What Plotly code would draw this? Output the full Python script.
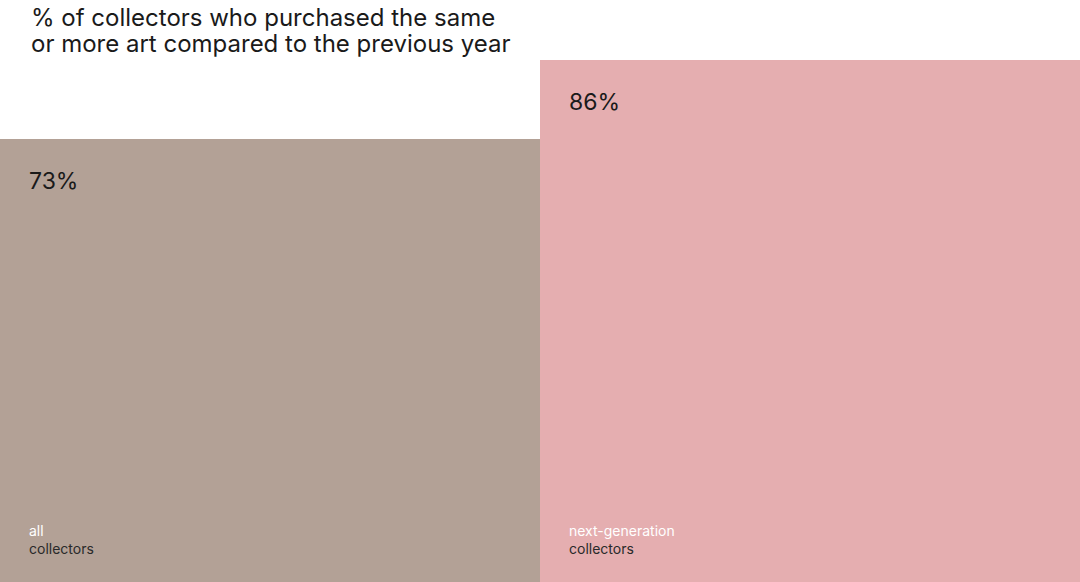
import plotly.graph_objects as go

categories = ["all collectors", "next-generation collectors"]
group_labels = ["all", "next-generation"]
values = [73, 86]
colors = ["#B3A196", "#E5AEB0"]
title_lines = ["% of collectors who purchased the same",
               "or more art compared to the previous year"]

H = 582
FONT = "Inter, Arial, sans-serif"
x_idx = list(range(len(categories)))

fig = go.Figure(
    go.Bar(
        x=x_idx,
        y=values,
        width=1,
        marker=dict(color=colors, line=dict(width=0)),
        hoverinfo="skip",
    )
)

annotations = []
for i, v in enumerate(values):
    annotations.append(dict(
        x=i - 0.5, y=v, xref="x", yref="y",
        text=f"{v}%", showarrow=False,
        xanchor="left", yanchor="top", xshift=27, yshift=-26,
        font=dict(family=FONT, size=23, color="#1a1a1a"),
        align="left",
    ))
    annotations.append(dict(
        x=i - 0.5, y=0, xref="x", yref="y",
        text=f"<span style='color:#ffffff'>{group_labels[i]}</span><br>collectors",
        showarrow=False,
        xanchor="left", yanchor="bottom", xshift=27, yshift=23,
        font=dict(family=FONT, size=14, color="#2a2a2a"),
        align="left",
    ))

for k, (line, ypx) in enumerate(zip(title_lines, [17, 44])):
    annotations.append(dict(
        x=29 / 1080, y=1 - ypx / H, xref="paper", yref="paper",
        text=line, showarrow=False,
        xanchor="left", yanchor="middle",
        font=dict(family=FONT, size=24, color="#1a1a1a"),
        align="left",
    ))

fig.update_layout(
    width=1080, height=H,
    margin=dict(l=0, r=0, t=0, b=0),
    paper_bgcolor="white", plot_bgcolor="white",
    bargap=0,
    showlegend=False,
    xaxis=dict(range=[-0.5, 1.5], visible=False, fixedrange=True),
    yaxis=dict(range=[0, 95.9], visible=False, fixedrange=True),
    annotations=annotations,
)

fig.write_html(
    "out.html",
    config={"displayModeBar": False},
    post_script="document.body.style.margin='0';document.body.style.padding='0';",
)
